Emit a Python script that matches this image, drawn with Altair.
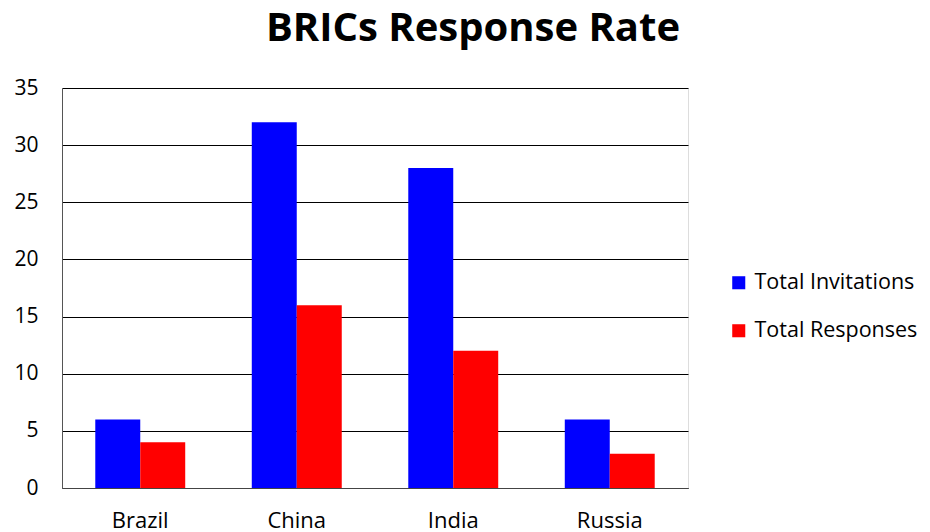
import altair as alt
import pandas as pd

countries = ["Brazil", "China", "India", "Russia"]
invitations = [6, 32, 28, 6]
responses = [4, 16, 12, 3]
series = ["Total Invitations", "Total Responses"]
colors = ["#0000FF", "#FF0000"]
y_ticks = [0, 5, 10, 15, 20, 25, 30, 35]

rows = []
for c, inv, res in zip(countries, invitations, responses):
    rows.append({"country": c, "series": series[0], "value": inv})
    rows.append({"country": c, "series": series[1], "value": res})
df = pd.DataFrame(rows)

FONT = "Open Sans"

chart = (
    alt.Chart(df)
    .mark_bar()
    .encode(
        x=alt.X(
            "country:N",
            sort=countries,
            title=None,
            scale=alt.Scale(paddingInner=0, paddingOuter=0),
            axis=alt.Axis(
                labelAngle=0,
                ticks=False,
                grid=False,
                domainColor="#444444",
                labelPadding=22,
                labelFontSize=22,
                labelColor="#000000",
                labelFont=FONT,
            ),
        ),
        xOffset=alt.XOffset(
            "series:N",
            sort=series,
            scale=alt.Scale(paddingInner=0, paddingOuter=0.74),
        ),
        y=alt.Y(
            "value:Q",
            title=None,
            scale=alt.Scale(domain=[0, 35], nice=False),
            axis=alt.Axis(
                values=y_ticks,
                ticks=False,
                gridColor="#000000",
                gridWidth=1.2,
                domainColor="#555555",
                labelPadding=24,
                labelFontSize=21,
                labelColor="#000000",
                labelFont=FONT,
            ),
        ),
        color=alt.Color(
            "series:N",
            sort=series,
            scale=alt.Scale(domain=series, range=colors),
            legend=alt.Legend(
                title=None,
                orient="none",
                legendX=666,
                legendY=184,
                symbolType="square",
                symbolSize=170,
                symbolStrokeWidth=0,
                labelFontSize=21.5,
                labelFont=FONT,
                labelColor="#000000",
                labelLimit=300,
                rowPadding=25,
                labelOffset=5,
            ),
        ),
    )
    .properties(
        width=626,
        height=400,
        padding={"left": 62, "top": 88, "right": 242, "bottom": 44},
        autosize=alt.AutoSizeParams(type="none"),
        title=alt.TitleParams(
            "BRICs Response Rate",
            anchor="start",
            dx=252,
            offset=28,
            fontSize=40,
            fontWeight="bold",
            font=FONT,
            color="#000000",
        ),
    )
    .configure_view(stroke="transparent", strokeWidth=0, fill="#FFFFFF")
    .configure_axisX(grid=False)
    .configure_axisBand(grid=False)
    .configure(background="#FFFFFF")
)

chart.save("out.html", embed_options={"renderer": "svg", "actions": False})
